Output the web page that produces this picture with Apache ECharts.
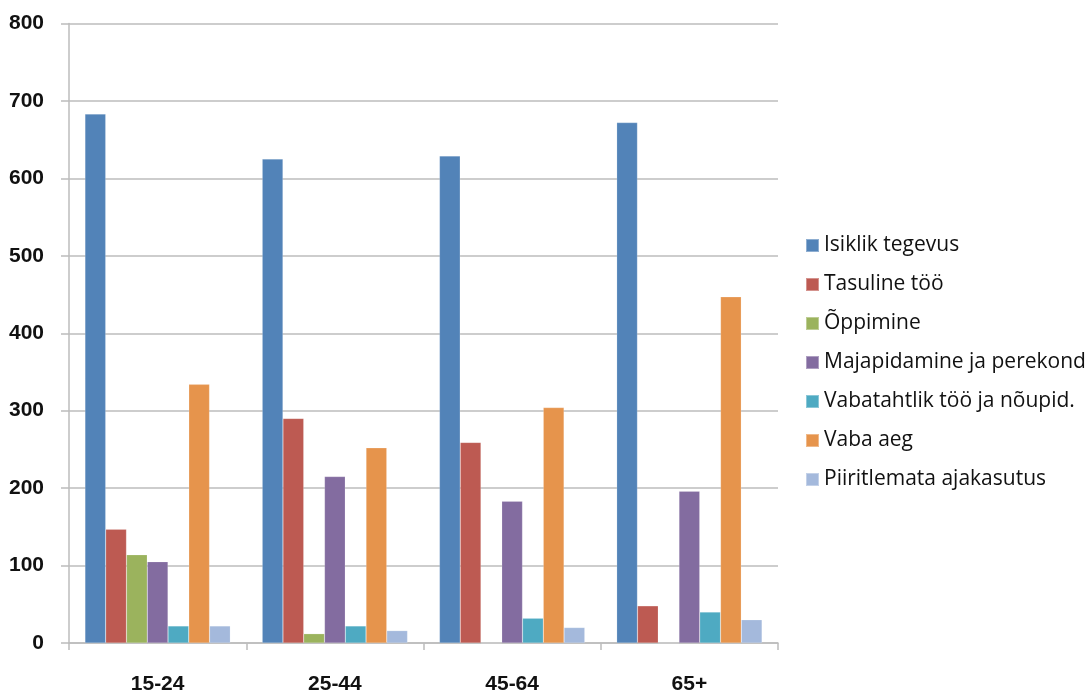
<!DOCTYPE html>
<html>
<head>
<meta charset="utf-8">
<script src="https://cdn.jsdelivr.net/npm/echarts@6/dist/echarts.min.js"></script>
<style>
  html, body { margin: 0; padding: 0; background: #ffffff; }
  #chart { width: 1092px; height: 695px; }
</style>
</head>
<body>
<div id="chart"></div>
<script>
// Age groups along the x axis
const ageGroups = ['15-24', '25-44', '45-64', '65+'];

// Time use by activity (minutes per day), one array per activity
const isiklikTegevus = [683, 625, 629, 672];
const tasulineToo = [147, 290, 259, 48];
const oppimine = [114, 12, 0, 0];
const majapidamine = [105, 215, 183, 196];
const vabatahtlikToo = [22, 22, 32, 40];
const vabaAeg = [334, 252, 304, 447];
const piiritlemata = [22, 16, 20, 30];

// Value axis ticks
const yTicks = [0, 100, 200, 300, 400, 500, 600, 700, 800];

const seriesDefs = [
  { name: 'Isiklik tegevus', data: isiklikTegevus, color: '#5283b8' },
  { name: 'Tasuline töö', data: tasulineToo, color: '#bd5a52' },
  { name: 'Õppimine', data: oppimine, color: '#9bb35d' },
  { name: 'Majapidamine ja perekond', data: majapidamine, color: '#836ca0' },
  { name: 'Vabatahtlik töö ja nõupid.', data: vabatahtlikToo, color: '#4eaac2' },
  { name: 'Vaba aeg', data: vabaAeg, color: '#e6944c' },
  { name: 'Piiritlemata ajakasutus', data: piiritlemata, color: '#a4b9dc' }
];

const chart = echarts.init(document.getElementById('chart'), null, { renderer: 'canvas' });

const axisGrey = '#bcbcbc';
const labelFont = 'Liberation Sans, Arial, sans-serif';

chart.setOption({
  animation: false,
  backgroundColor: '#ffffff',
  grid: { left: 69, right: 314, top: 23.5, bottom: 50, containLabel: false },
  legend: {
    orient: 'vertical',
    left: 800,
    top: 230,
    itemWidth: 13,
    itemHeight: 13,
    itemGap: 18,
    icon: 'rect',
    textStyle: {
      fontFamily: 'Open Sans, sans-serif',
      fontSize: 21,
      lineHeight: 21,
      color: '#111111'
    },
    data: seriesDefs.map(s => s.name)
  },
  xAxis: {
    type: 'category',
    data: ageGroups,
    axisLine: { show: true, lineStyle: { color: axisGrey, width: 1.5 } },
    axisTick: { show: true, length: 7, lineStyle: { color: axisGrey, width: 1.5 } },
    axisLabel: {
      margin: 31,
      fontFamily: labelFont,
      fontWeight: 'bold',
      fontSize: 21,
      color: '#111111'
    }
  },
  yAxis: {
    type: 'value',
    min: yTicks[0],
    max: yTicks[yTicks.length - 1],
    interval: yTicks[1] - yTicks[0],
    axisLine: { show: true, lineStyle: { color: axisGrey, width: 1.5 } },
    axisTick: { show: true, length: 8, lineStyle: { color: axisGrey, width: 1.5 } },
    splitLine: { show: true, lineStyle: { color: axisGrey, width: 1.5 } },
    axisLabel: {
      margin: 25,
      fontFamily: labelFont,
      fontWeight: 'bold',
      fontSize: 21,
      color: '#111111'
    }
  },
  series: seriesDefs.map(s => ({
    name: s.name,
    type: 'bar',
    data: s.data,
    barGap: '0%',
    barCategoryGap: '18%',
    itemStyle: { color: s.color, borderColor: 'rgba(255,255,255,0.35)', borderWidth: 0.5 }
  }))
});
</script>
</body>
</html>
